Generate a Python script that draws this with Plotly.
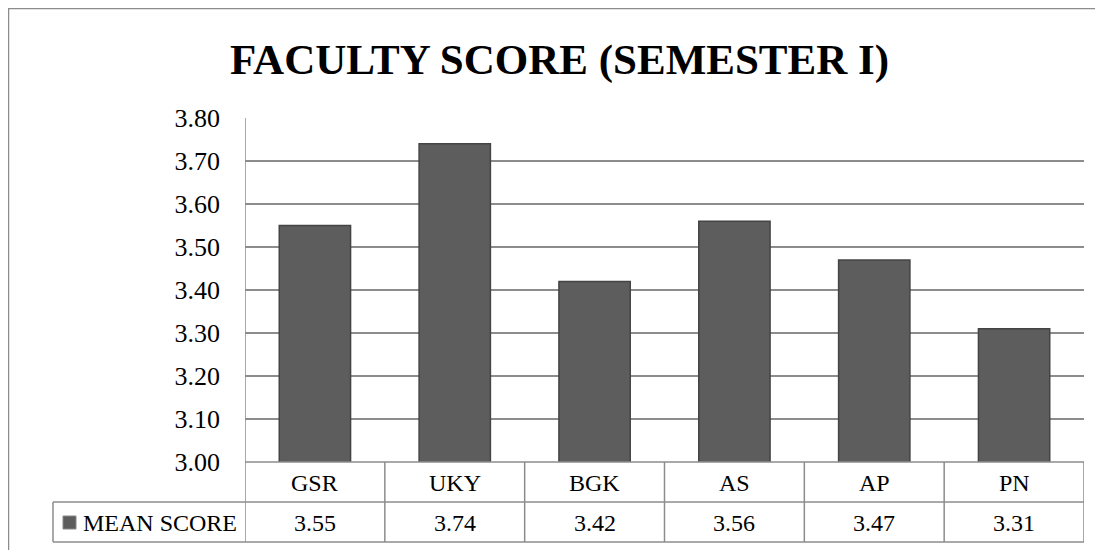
import plotly.graph_objects as go

# --- DATA ---
categories = ["GSR", "UKY", "BGK", "AS", "AP", "PN"]
mean_score = [3.55, 3.74, 3.42, 3.56, 3.47, 3.31]
series_name = "MEAN SCORE"
y_ticks = [3.00, 3.10, 3.20, 3.30, 3.40, 3.50, 3.60, 3.70, 3.80]

OFF = 8  # page body margin, positions below are measured in screen pixels
W, H = 1103 - OFF, 550 - OFF
PL, PR, PT, PB = 245, 1084, 118, 462   # plot area in screen pixels
GRID = "#8c8c8c"
SERIF = "Liberation Serif"


def px(x):
    return (x - PL) / (PR - PL)


def py(y):
    return (PB - y) / (PB - PT)


fig = go.Figure()
fig.add_trace(go.Bar(
    x=categories, y=mean_score, name=series_name, width=0.51,
    marker=dict(color="#5d5d5d", line=dict(color="#444444", width=1.5)),
    showlegend=False,
))

shapes = []
annotations = []
line = dict(color=GRID, width=1.5)

# outer chart border (runs off the right/bottom of the picture)
shapes.append(dict(type="rect", xref="paper", yref="paper",
                   x0=px(8.5), x1=px(1120), y0=py(570), y1=py(8.5), line=line))

# data table below the axis
row1_bot, row2_bot = 502, 542
n = len(categories)
for i in range(n + 1):
    top = py(PT) if i == 0 else 0
    shapes.append(dict(type="line", xref="x", yref="paper",
                       x0=i - 0.5, x1=i - 0.5, y0=top, y1=py(row2_bot), line=line))
shapes.append(dict(type="line", xref="paper", yref="paper",
                   x0=0, x1=1, y0=0, y1=0, line=line))
for yy in (row1_bot, row2_bot):
    shapes.append(dict(type="line", xref="paper", yref="paper",
                       x0=px(53), x1=1, y0=py(yy), y1=py(yy), line=line))
shapes.append(dict(type="line", xref="paper", yref="paper",
                   x0=px(53), x1=px(53), y0=py(row1_bot), y1=py(row2_bot), line=line))
# legend key
shapes.append(dict(type="rect", xref="paper", yref="paper",
                   x0=px(63), x1=px(76), y0=py(529), y1=py(516),
                   fillcolor="#5d5d5d", line=dict(color="#888888", width=1)))

tfont = dict(family=SERIF, size=24, color="black")
for c, v in zip(categories, mean_score):
    annotations.append(dict(x=c, xref="x", yref="paper", y=py(483), text=c,
                            showarrow=False, font=tfont, yanchor="middle"))
    annotations.append(dict(x=c, xref="x", yref="paper", y=py(523), text=f"{v:.2f}",
                            showarrow=False, font=tfont, yanchor="middle"))
annotations.append(dict(x=px(81), xref="paper", yref="paper", y=py(523), text=series_name,
                        showarrow=False, font=tfont, xanchor="left", yanchor="middle"))

# title
annotations.append(dict(x=px(559), xref="paper", yref="paper", y=py(60),
                        text="<b>FACULTY SCORE (SEMESTER I)</b>", showarrow=False,
                        font=dict(family=SERIF, size=43, color="black"),
                        xanchor="center", yanchor="middle"))

fig.update_layout(
    width=W, height=H,
    margin=dict(l=PL - OFF, r=W + OFF - PR, t=PT - OFF, b=H + OFF - PB, pad=0),
    plot_bgcolor="white", paper_bgcolor="white",
    bargap=0.49,
    shapes=shapes, annotations=annotations,
    xaxis=dict(showticklabels=False, showgrid=False, zeroline=False, showline=False,
               range=[-0.5, n - 0.5], fixedrange=True),
    yaxis=dict(range=[3.0, 3.8], tickvals=y_ticks, ticktext=[f"{t:.2f}" for t in y_ticks],
               showgrid=True, gridcolor=GRID, gridwidth=1.5, zeroline=False,
               showline=False, ticks="", ticklabelstandoff=24,
               tickfont=dict(family=SERIF, size=26, color="black")),
)

fig.write_html("out.html")
